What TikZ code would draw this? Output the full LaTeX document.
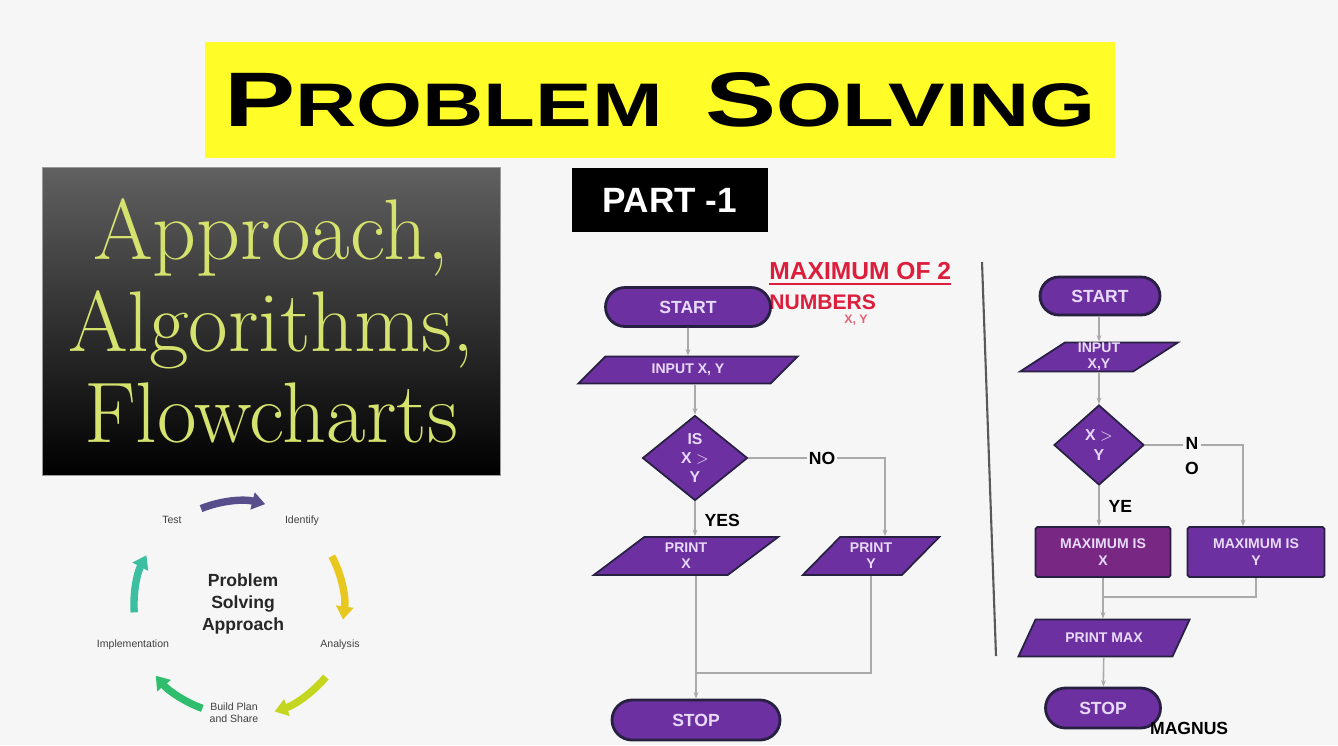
\documentclass[tikz,border=0pt]{standalone}
\usepackage{fontspec}
\usepackage{xcolor}
\usepackage{tikz}
\usetikzlibrary{shapes.geometric, shapes.misc, arrows.meta}

\newfontfamily\headfont{Liberation Sans}

\definecolor{pagebg}{RGB}{246,246,246}
\definecolor{titleyellow}{RGB}{255,252,40}
\definecolor{fcpurple}{RGB}{108,48,160}
\definecolor{fcmagenta}{RGB}{120,40,130}
\definecolor{fcedge}{RGB}{40,32,66}
\definecolor{fctext}{RGB}{232,218,250}
\definecolor{fcline}{RGB}{170,170,170}
\definecolor{maxred}{RGB}{220,30,60}
\definecolor{coverfg}{RGB}{214,226,110}
\definecolor{cycpurple}{RGB}{88,78,140}
\definecolor{cycyellow}{RGB}{232,200,30}
\definecolor{cyclime}{RGB}{196,214,32}
\definecolor{cycgreen}{RGB}{48,190,110}
\definecolor{cycteal}{RGB}{60,190,160}

\begin{document}
\begin{tikzpicture}[
        x=0.02cm, y=-0.02cm,
        term/.style={rounded rectangle, draw=fcedge, line width=1.6pt, fill=fcpurple, text=fctext, inner sep=0pt, font=\headfont\bfseries\fontsize{10}{11}\selectfont},
        io/.style={trapezium, trapezium left angle=45, trapezium right angle=135, trapezium stretches=true, draw=fcedge, line width=1pt, fill=fcpurple, text=fctext, inner sep=0pt, align=center, font=\headfont\bfseries\fontsize{8}{9}\selectfont},
        dec/.style={diamond, draw=fcedge, line width=1pt, fill=fcpurple, text=fctext, inner sep=0pt, align=center, font=\headfont\bfseries\fontsize{9}{11}\selectfont},
        proc/.style={rectangle, draw=fcedge, line width=1pt, fill=fcmagenta, text=fctext, inner sep=0pt, align=center, rounded corners=1pt, font=\headfont\bfseries\fontsize{8}{10}\selectfont},
        lbl/.style={text=black, inner sep=1pt, font=\headfont\bfseries\fontsize{10}{11}\selectfont},
        cyclbl/.style={text=black!75, inner sep=0pt, align=center, font=\headfont\fontsize{6}{7}\selectfont},
        flow/.style={-{Stealth[length=1.3mm]}, fcline, line width=0.9pt},
        line/.style={fcline, line width=0.9pt},
        cyc/.style={-{Triangle[length=2.6mm, width=3.4mm]}, line width=4.2pt}
    ]
        % Page
        \fill[pagebg] (0,0) rectangle (1338,745);

        % Title and cover
        \node[fill=titleyellow, minimum width=18.2cm, minimum height=2.32cm] (title) at (660,100)
            {\scalebox{1.38}[1]{\headfont\bfseries\fontsize{44}{48}\selectfont P{\fontsize{35}{40}\selectfont ROBLEM}\hspace{0.4em}S{\fontsize{35}{40}\selectfont OLVING}}};
        \node[top color=black!62, bottom color=black, draw=black!40, minimum width=9.16cm, minimum height=6.16cm, text=coverfg, align=center, font=\fontsize{49}{52}\selectfont\addfontfeatures{FakeBold=1.4}] (cover) at (271,321)
            {Approach,\\Algorithms,\\Flowcharts};
        \node[fill=black, text=white, minimum width=3.92cm, minimum height=1.28cm, font=\headfont\bfseries\fontsize{20}{22}\selectfont] (part) at (670,200) {PART -1};

        % Problem solving cycle
        \node[align=center, text=black!85, font=\headfont\bfseries\fontsize{10}{12.5}\selectfont] (cycc) at (243,604) {Problem\\Solving\\Approach};
        \node[cyclbl] (ctest) at (172,520) {Test};
        \node[cyclbl] (cident) at (302,521) {Identify};
        \node[cyclbl] (canal) at (340,645) {Analysis};
        \node[cyclbl] (cbuild) at (234,713) {Build Plan\\and Share};
        \node[cyclbl] (cimpl) at (133,645) {Implementation};
        \begin{scope}[shift={(240,605)}, yscale=-1]
            \draw[cyc, cycpurple] (112:104) arc[start angle=112, end angle=76, radius=104];
            \draw[cyc, cycyellow] (28:104) arc[start angle=28, end angle=-8, radius=104];
            \draw[cyc, cyclime] (-40:112) arc[start angle=-40, end angle=-72, radius=112];
            \draw[cyc, cycgreen] (-110:110) arc[start angle=-110, end angle=-140, radius=110];
            \draw[cyc, cycteal] (184:106) arc[start angle=184, end angle=152, radius=106];
        \end{scope}

        % Left flowchart
        \node[anchor=north west, inner sep=0pt, text=maxred, font=\headfont\bfseries\fontsize{14}{16}\selectfont] (maxhead) at (769,262) {MAXIMUM OF 2};
        \draw[maxred, line width=1pt] ([yshift=-2pt]maxhead.south west) -- ([yshift=-2pt]maxhead.south east);
        \node[anchor=north west, inner sep=0pt, text=maxred, font=\headfont\bfseries\fontsize{12}{14}\selectfont] (maxnum) at (769,294) {NUMBERS};
        \node[text=maxred!70, inner sep=0pt, font=\headfont\bfseries\fontsize{7}{8}\selectfont] (maxxy) at (856,320) {X, Y};

        \node[term, minimum width=3.3cm, minimum height=0.78cm] (start) at (688,307) {START};
        \node[io, minimum width=4.4cm, minimum height=0.54cm] (input) at (688,370) {INPUT X, Y};
        \node[dec, minimum width=2.1cm, minimum height=1.7cm] (cmp) at (695,458) {IS\\X $>$\\Y};
        \node[io, minimum width=3.7cm, minimum height=0.76cm] (printx) at (686,556) {PRINT\\X};
        \node[io, minimum width=2.74cm, minimum height=0.76cm] (printy) at (871,556) {PRINT\\Y};
        \node[term, minimum width=3.36cm, minimum height=0.8cm] (stop) at (696,720) {STOP};
        \coordinate (join) at (696,673);

        \draw[flow] (start) -- (input);
        \draw[flow] (input.south -| cmp.north) -- (cmp.north);
        \draw[flow] (cmp.south) -- node[lbl, pos=0.55, right=4pt] {YES} (cmp.south |- printx.north);
        \draw[flow] (cmp.east) -| node[lbl, fill=pagebg, pos=0.27] {NO} ([xshift=0.28cm]printy.north);
        \draw[flow] (printx.south -| stop.north) -- (stop.north);
        \draw[line] (printy.south) |- (join);

        % Separator
        \draw[black!65, line width=1.2pt] (982,262) -- (996,656);

        % Right flowchart
        \node[term, minimum width=2.4cm, minimum height=0.76cm] (start2) at (1100,296) {START};
        \node[io, minimum width=3.16cm, minimum height=0.58cm] (input2) at (1099,357) {INPUT\\X,Y};
        \node[dec, minimum width=1.8cm, minimum height=1.6cm] (cmp2) at (1099,445) {X $>$\\Y};
        \node[proc, minimum width=2.7cm, minimum height=1.0cm] (maxx) at (1103,552) {MAXIMUM IS\\X};
        \node[proc, fill=fcpurple, minimum width=2.74cm, minimum height=1.0cm] (maxy) at (1256,552) {MAXIMUM IS\\Y};
        \node[io, minimum width=3.44cm, minimum height=0.74cm] (print2) at (1104,638) {PRINT MAX};
        \node[term, minimum width=2.3cm, minimum height=0.8cm] (stop2) at (1103,708) {STOP};
        \coordinate (join2) at (1103,597);

        \draw[flow] (start2.south -| input2.north) -- (input2.north);
        \draw[flow] (input2) -- (cmp2);
        \draw[flow] (cmp2.south) -- node[lbl, pos=0.5, right=4pt] {YE} (cmp2.south |- maxx.north);
        \draw[flow] (cmp2.east) -| node[lbl, fill=pagebg, align=center, pos=0.24, yshift=-0.22cm, font=\headfont\bfseries\fontsize{10}{14}\selectfont] {N\\O} ([xshift=-0.26cm]maxy.north);
        \draw[flow] (maxx) -- (maxx |- print2.north);
        \draw[line] (maxy.south) |- (join2);
        \draw[flow] (print2) -- (stop2);

        \node[lbl, anchor=west] (magnus) at (1148,728) {MAGNUS};
    \end{tikzpicture}
\end{document}
